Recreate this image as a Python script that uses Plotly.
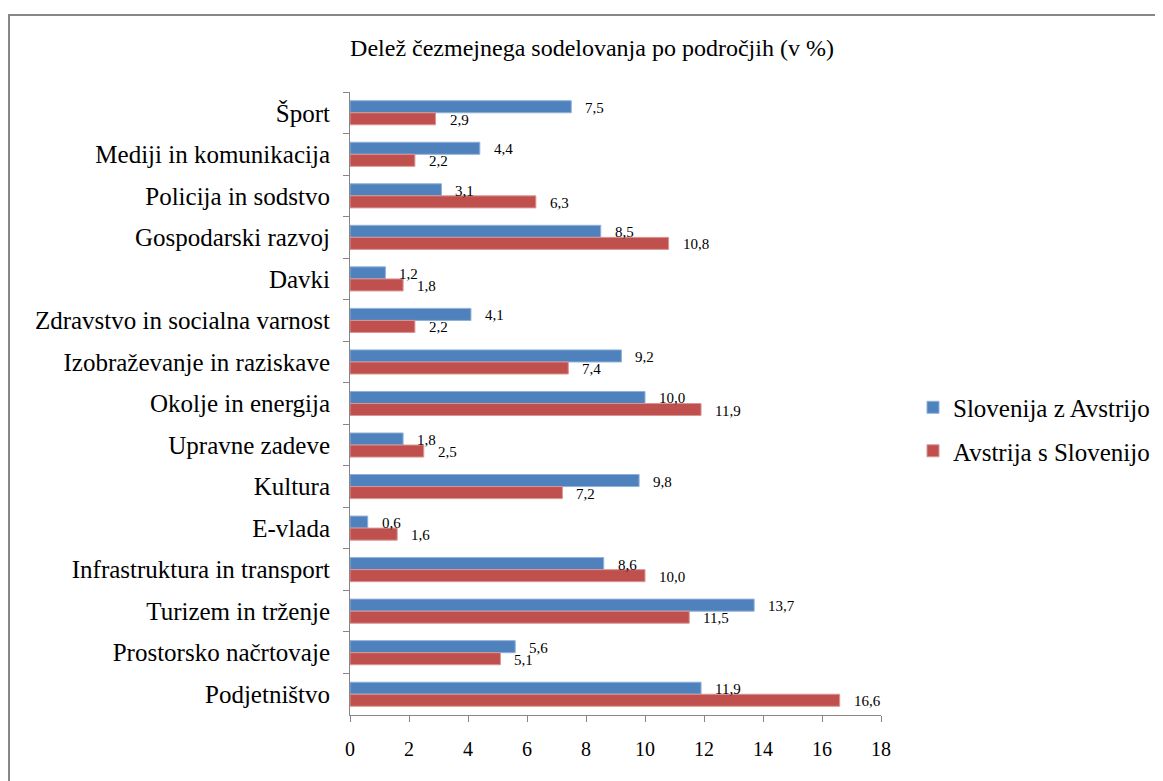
import plotly.graph_objects as go

categories = [
    "Šport", "Mediji in komunikacija", "Policija in sodstvo", "Gospodarski razvoj",
    "Davki", "Zdravstvo in socialna varnost", "Izobraževanje in raziskave",
    "Okolje in energija", "Upravne zadeve", "Kultura", "E-vlada",
    "Infrastruktura in transport", "Turizem in trženje", "Prostorsko načrtovaje",
    "Podjetništvo",
]
slo_avt = [7.5, 4.4, 3.1, 8.5, 1.2, 4.1, 9.2, 10.0, 1.8, 9.8, 0.6, 8.6, 13.7, 5.6, 11.9]
avt_slo = [2.9, 2.2, 6.3, 10.8, 1.8, 2.2, 7.4, 11.9, 2.5, 7.2, 1.6, 10.0, 11.5, 5.1, 16.6]
x_ticks = [0, 2, 4, 6, 8, 10, 12, 14, 16, 18]

BLUE = '#4F81BD'
RED = '#C0504D'
FONT = 'Liberation Serif, Times New Roman, serif'

W, H = 1155, 773   # page body adds 8px margin
L, R, T, B = 342, 873, 84, 707   # plot area in figure px

fig = go.Figure()
fig.add_trace(go.Bar(y=categories, x=slo_avt, orientation='h', name='Slovenija z Avstrijo',
    marker=dict(color=BLUE, line=dict(color='#8FB0D9', width=1)), legendgroup='a'))
fig.add_trace(go.Bar(y=categories, x=avt_slo, orientation='h', name='Avstrija s Slovenijo',
    marker=dict(color=RED, line=dict(color='#D99694', width=1)), legendgroup='b'))

# value labels just past the bar ends
annotations = []
for i, (a, b) in enumerate(zip(slo_avt, avt_slo)):
    for val, off in ((a, -0.145), (b, 0.145)):
        annotations.append(dict(x=val, y=i + off, xref='x', yref='y', text=f"{val:.1f}".replace('.', ','),
            showarrow=False, xanchor='left', yanchor='middle', xshift=12, yshift=-1,
            font=dict(family=FONT, size=15, color='black')))

fig.update_layout(
    width=W, height=H,
    plot_bgcolor='white', paper_bgcolor='white',
    margin=dict(l=L, r=W - R, t=T, b=H - B, autoexpand=False),
    barmode='group', bargap=0.42, bargroupgap=0,
    font=dict(family=FONT, size=20, color='black'),
    title=dict(text="Delež čezmejnega sodelovanja po področjih (v %)", xref='container', x=584 / W,
        xanchor='center', y=1 - 40 / H, yanchor='middle', font=dict(family=FONT, size=24, color='black')),
    xaxis=dict(range=[0, 18], tickvals=x_ticks, showgrid=False, zeroline=False, showline=True,
        linecolor='#868686', linewidth=1, ticks='outside', ticklen=6, tickcolor='#868686',
        ticklabelstandoff=10, tickfont=dict(size=20)),
    yaxis=dict(autorange='reversed', showgrid=False, showline=True, linecolor='#868686', linewidth=1,
        ticks='outside', ticklen=6, tickcolor='#868686', tickson='boundaries',
        ticklabelstandoff=14, tickfont=dict(size=25)),
    legend=dict(x=(905 - L) / (R - L), xanchor='left', y=0.459, yanchor='middle', tracegroupgap=8,
        font=dict(family=FONT, size=25), itemwidth=30),
    annotations=annotations,
    shapes=[dict(type='rect', xref='paper', yref='paper', x0=(1 - L) / (R - L), x1=2,
        y0=-1, y1=(B - 7) / (B - T), line=dict(color='#878787', width=2), layer='below')],
)

fig.write_html("out.html")
